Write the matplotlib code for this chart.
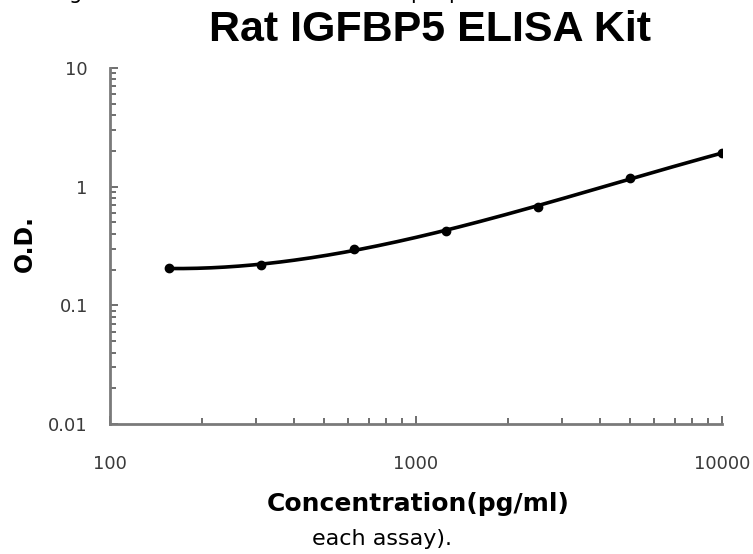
import numpy as np
import matplotlib
matplotlib.use("Agg")
import matplotlib.pyplot as plt
from matplotlib.ticker import LogLocator, NullFormatter, FixedLocator, FixedFormatter

# Data
concentration = [156.25, 312.5, 625, 1250, 2500, 5000, 10000]
od = [0.205, 0.219, 0.297, 0.426, 0.679, 1.18, 1.91]
x_ticks = [100, 1000, 10000]
x_tick_labels = ["100", "1000", "10000"]
y_ticks = [0.01, 0.1, 1, 10]
y_tick_labels = ["0.01", "0.1", "1", "10"]

title = "Rat IGFBP5 ELISA Kit"
xlabel = "Concentration(pg/ml)"
ylabel = "O.D."
caption = "each assay)."

fig = plt.figure(figsize=(7.53, 5.54), dpi=100)
ax = fig.add_axes([110 / 753, 1 - 424 / 554, (722 - 110) / 753, (424 - 68) / 554])

# Fitted smooth curve (cubic fit in log-log space)
lx = np.log10(concentration)
ly = np.log10(od)
coef = np.polyfit(lx, ly, 3)
xs = np.linspace(lx[0], lx[-1], 200)
ax.plot(10 ** xs, 10 ** np.polyval(coef, xs), color="black", lw=2.6, solid_capstyle="round")
ax.plot(concentration, od, "o", color="black", ms=6)

ax.set_xscale("log")
ax.set_yscale("log")
ax.set_xlim(100, 10000)
ax.set_ylim(0.01, 10)

ax.xaxis.set_major_locator(FixedLocator(x_ticks))
ax.xaxis.set_major_formatter(FixedFormatter(x_tick_labels))
ax.yaxis.set_major_locator(FixedLocator(y_ticks))
ax.yaxis.set_major_formatter(FixedFormatter(y_tick_labels))
ax.xaxis.set_minor_locator(LogLocator(base=10, subs=np.arange(2, 10)))
ax.yaxis.set_minor_locator(LogLocator(base=10, subs=np.arange(2, 10)))
ax.xaxis.set_minor_formatter(NullFormatter())
ax.yaxis.set_minor_formatter(NullFormatter())

axis_color = "#7a7a7a"
for s in ["top", "right"]:
    ax.spines[s].set_visible(False)
for s in ["left", "bottom"]:
    ax.spines[s].set_color(axis_color)
    ax.spines[s].set_linewidth(2)

ax.tick_params(axis="both", which="major", direction="in", length=6, width=1.2,
               color="#555555", labelsize=13, labelcolor="#3a3a3a")
ax.tick_params(axis="both", which="minor", direction="in", length=4, width=1.2,
               color="#555555")
ax.tick_params(axis="x", which="major", pad=22)
ax.tick_params(axis="y", which="major", pad=16)
for t in ax.get_xticklabels() + ax.get_yticklabels():
    t.set_family("DejaVu Sans")

fig.text(430 / 753, 1 - 30 / 554, title, ha="center", va="center",
         fontsize=31, fontweight="bold", family="Liberation Sans")
fig.text(25 / 753, 1 - 244 / 554, ylabel, ha="center", va="center", rotation=90,
         fontsize=17, fontweight="bold", family="DejaVu Sans")
fig.text(418 / 753, 1 - 504 / 554, xlabel, ha="center", va="center",
         fontsize=18, fontweight="bold", family="DejaVu Sans")
fig.text(382 / 753, 1 - 539 / 554, caption, ha="center", va="center",
         fontsize=16, family="DejaVu Sans")

# clipped line of text above the title (only descenders visible)
for ch, px in [("g", 76), ("p", 417), ("p", 455)]:
    fig.text(px / 753, 1 + 1 / 554, ch, ha="center", va="baseline",
             fontsize=15, family="DejaVu Sans")

fig.savefig("out.png", dpi=100)
